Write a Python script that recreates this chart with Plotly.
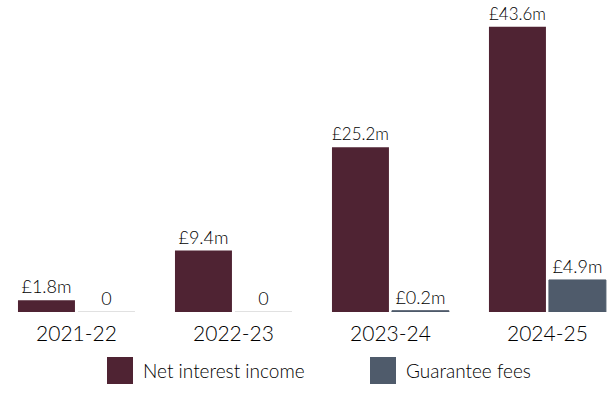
import plotly.graph_objects as go

years = ["2021-22", "2022-23", "2023-24", "2024-25"]
net_interest = [1.8, 9.4, 25.2, 43.6]
guarantee_fees = [0, 0, 0.2, 4.9]
net_labels = ["£1.8m", "£9.4m", "£25.2m", "£43.6m"]
fee_labels = ["0", "0", "£0.2m", "£4.9m"]

MAROON = "#4f2333"
SLATE = "#4f5b6b"
ZERO_GREY = "#d6d6d6"
INK = "#000000"
FONT = "Lato"
WEIGHT = 300
W, H = 614, 394

label_font = dict(size=18, color=INK, family=FONT, weight=WEIGHT)

fig = go.Figure()
fig.add_trace(go.Bar(
    x=years, y=net_interest, name="Net interest income",
    marker=dict(color=MAROON, line=dict(width=0)),
    text=net_labels, textposition="outside", cliponaxis=False,
    textfont=label_font,
))
# zero-valued fees are drawn as a thin grey rule at the baseline
fee_line_colors = [ZERO_GREY if v == 0 else SLATE for v in guarantee_fees]
fig.add_trace(go.Bar(
    x=years, y=guarantee_fees, name="Guarantee fees",
    marker=dict(color=SLATE, line=dict(width=1, color=fee_line_colors)),
    text=fee_labels, textposition="outside", cliponaxis=False,
    textfont=label_font,
))

fig.update_layout(
    width=W, height=H,
    margin=dict(l=0, r=0, t=0, b=82),
    paper_bgcolor="white", plot_bgcolor="white",
    barmode="group", bargap=0.236, bargroupgap=0.05,
    showlegend=False,
    font=dict(family=FONT, color=INK, weight=WEIGHT),
)
fig.update_xaxes(
    range=[-0.487, 3.424], showgrid=False, zeroline=False, showline=False,
    ticks="outside", ticklen=3, tickcolor="rgba(0,0,0,0)",
    tickfont=dict(size=21, color=INK, family=FONT, weight=WEIGHT),
)
fig.update_yaxes(range=[0, 47.7], visible=False)

# legend drawn as swatches with captions below the plot
legend_items = [("Net interest income", MAROON, 107), ("Guarantee fees", SLATE, 370)]
for label, color, x_px in legend_items:
    fig.add_shape(
        type="rect", xref="paper", yref="paper",
        x0=x_px / W, x1=(x_px + 26) / W,
        y0=(312 - 384) / 312, y1=(312 - 357) / 312,
        fillcolor=color, line=dict(width=0),
    )
    fig.add_annotation(
        text=label, xref="paper", yref="paper",
        x=(x_px + 34) / W, y=(312 - 370.5) / 312,
        xanchor="left", yanchor="middle", showarrow=False,
        font=dict(size=19, color=INK, family=FONT, weight=WEIGHT),
    )

fig.write_html("out.html")
